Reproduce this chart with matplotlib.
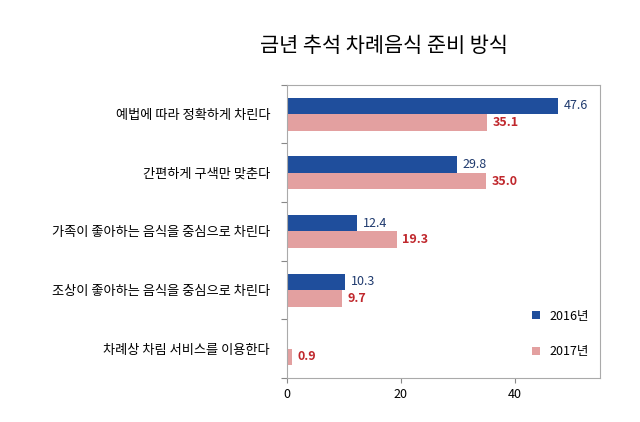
import matplotlib.pyplot as plt
import numpy as np

plt.rcParams["font.family"] = ["Noto Sans CJK KR", "Noto Sans CJK JP", "Noto Sans CJK SC", "DejaVu Sans"]

categories = ["예법에 따라 정확하게 차린다", "간편하게 구색만 맞춘다", "가족이 좋아하는 음식을 중심으로 차린다",
              "조상이 좋아하는 음식을 중심으로 차린다", "차례상 차림 서비스를 이용한다"]
vals_2016 = [47.6, 29.8, 12.4, 10.3, None]
vals_2017 = [35.1, 35.0, 19.3, 9.7, 0.9]

fig = plt.figure(figsize=(6.4, 4.22), dpi=100)
ax = fig.add_axes([0.448, 0.104, 0.49, 0.695])

y = np.arange(len(categories))
h = 0.28
for i, (a, b) in enumerate(zip(vals_2016, vals_2017)):
    if a is not None:
        ax.barh(i - h / 2, a, height=h, color="#1f4e9c", label="2016년" if i == 0 else None)
        ax.text(a + 1, i - h / 2, f"{a:.1f}", va="center", fontsize=9, color="#1f3a6e")
    ax.barh(i + h / 2, b, height=h, color="#e3a0a0", label="2017년" if i == 0 else None)
    ax.text(b + 1, i + h / 2, f"{b:.1f}", va="center", fontsize=9, color="#c0282d", fontweight="bold")

ax.set_ylim(4.5, -0.5)
ax.set_xlim(0, 55)
ax.set_xticks([0, 20, 40])
ax.set_yticks(np.arange(-0.5, 5, 1), minor=False)
ax.set_yticklabels([])
ax.set_yticks(y, minor=True)
ax.set_yticklabels(categories, minor=True, fontsize=9.5)
ax.tick_params(axis="y", which="minor", length=0, pad=12)
ax.tick_params(axis="y", which="major", length=4, color="#888888")
ax.tick_params(axis="x", labelsize=9, color="#888888")
for s in ax.spines.values():
    s.set_color("#aaaaaa")

leg = ax.legend(loc="lower right", frameon=False, fontsize=9, handlelength=0.6, handleheight=0.6,
                labelspacing=1.8, bbox_to_anchor=(1.0, 0.03))

fig.text(0.6, 0.89, "금년 추석 차례음식 준비 방식", ha="center", va="center", fontsize=15)

fig.savefig("out.png", dpi=100, facecolor="white")
